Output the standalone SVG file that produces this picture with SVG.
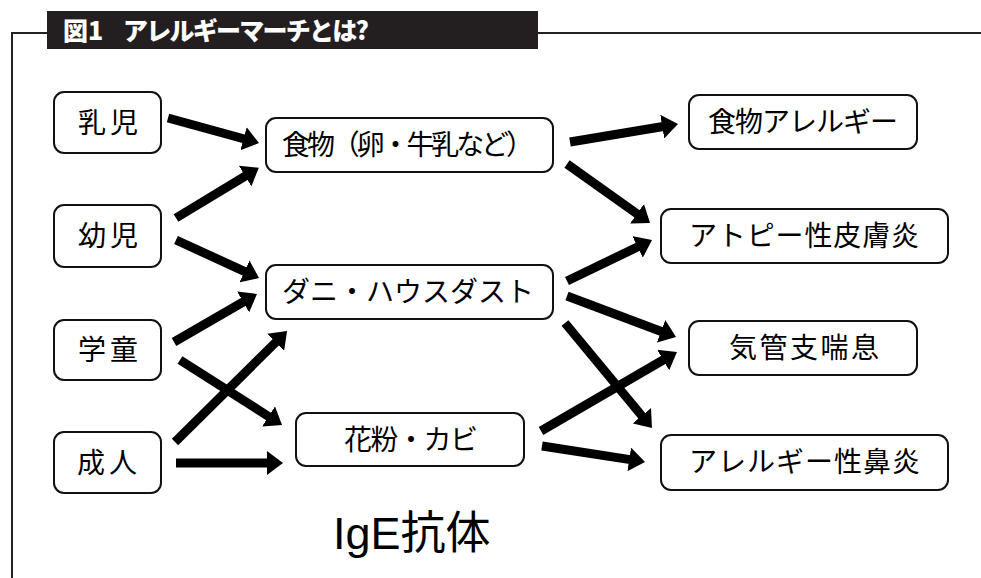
<svg xmlns="http://www.w3.org/2000/svg" width="981" height="578" viewBox="0 0 981 578">
<style>
.box{fill:#fff;stroke:#111;stroke-width:2}
.t{font-family:"Noto Sans CJK JP","Noto Sans",sans-serif;font-size:28px;fill:#000;text-anchor:middle}
.ar{stroke:#000;stroke-width:9;fill:none;marker-end:url(#ah)}
.frame{stroke:#222;stroke-width:2;fill:none}
.title{font-family:"Noto Sans CJK JP","Noto Sans",sans-serif;font-size:25px;font-weight:900;fill:#fff}
</style>
<defs>
<marker id="ah" markerUnits="userSpaceOnUse" viewBox="0 -12 16 24" markerWidth="16" markerHeight="24" refX="1" refY="0" orient="auto">
<path d="M0,-12 L16,0 L0,12 z" fill="#000"/>
</marker>
</defs>
<rect width="981" height="578" fill="#fff"/>
<g id="frame">
<path class="frame" d="M12,578 L12,33 L47,33 M538,33 L981,33"/>
<rect x="47" y="11" width="491" height="38" fill="#231f20"/>
<text class="title" x="63" y="40">図1</text>
<text class="title" x="123" y="40" textLength="246" lengthAdjust="spacing">アレルギーマーチとは?</text>
</g>
<g id="connectors">
<line class="ar" x1="168" y1="118" x2="244.5" y2="139"/>
<line class="ar" x1="176" y1="218" x2="246" y2="175.6"/>
<line class="ar" x1="176" y1="240" x2="245.4" y2="271.8"/>
<line class="ar" x1="174" y1="342" x2="244" y2="301.5"/>
<line class="ar" x1="180" y1="360" x2="269.4" y2="417"/>
<line class="ar" x1="175" y1="442" x2="276.4" y2="341.6"/>
<line class="ar" x1="176" y1="463" x2="268" y2="463"/>
<line class="ar" x1="570" y1="142" x2="663.2" y2="126.5"/>
<line class="ar" x1="567" y1="164" x2="637.8" y2="214.3"/>
<line class="ar" x1="567" y1="281" x2="638.5" y2="246.5"/>
<line class="ar" x1="567" y1="296" x2="662" y2="331.7"/>
<line class="ar" x1="565" y1="323" x2="642.4" y2="416.5"/>
<line class="ar" x1="541" y1="431" x2="664" y2="359.5"/>
<line class="ar" x1="542" y1="446" x2="630.2" y2="459.6"/>
</g>
<g id="n-nyuji"><rect class="box" x="54" y="92" width="107" height="61" rx="10"/><text class="t" x="108" y="133" textLength="60">乳児</text></g>
<g id="n-youji"><rect class="box" x="54" y="205" width="107" height="62" rx="10"/><text class="t" x="108" y="246" textLength="60">幼児</text></g>
<g id="n-gakudou"><rect class="box" x="54" y="320" width="107" height="60" rx="10"/><text class="t" x="108" y="360" textLength="60">学童</text></g>
<g id="n-seijin"><rect class="box" x="54" y="432" width="107" height="61" rx="10"/><text class="t" x="107" y="473" textLength="60">成人</text></g>
<g id="n-food"><rect class="box" x="266" y="118" width="287" height="54" rx="10"/><text class="t" x="408" y="155" textLength="252">食物（卵・牛乳など）</text></g>
<g id="n-dani"><rect class="box" x="266" y="265" width="287" height="54" rx="10"/><text class="t" x="408" y="302" textLength="252">ダニ・ハウスダスト</text></g>
<g id="n-kafun"><rect class="box" x="296" y="413" width="228" height="53" rx="10"/><text class="t" x="411" y="450" textLength="134">花粉・カビ</text></g>
<g id="n-foodallergy"><rect class="box" x="689" y="95" width="228" height="54" rx="10"/><text class="t" x="803" y="132" textLength="190">食物アレルギー</text></g>
<g id="n-atopy"><rect class="box" x="661" y="209" width="287" height="54" rx="10"/><text class="t" x="804" y="246" textLength="230">アトピー性皮膚炎</text></g>
<g id="n-asthma"><rect class="box" x="689" y="321" width="228" height="54" rx="10"/><text class="t" x="804" y="358" textLength="150">気管支喘息</text></g>
<g id="n-rhinitis"><rect class="box" x="661" y="435" width="287" height="55" rx="10"/><text class="t" x="804.5" y="472" textLength="231">アレルギー性鼻炎</text></g>
<g id="label-ige"><text x="333" y="549" font-family="'Liberation Sans','Noto Sans CJK JP',sans-serif" font-size="45" fill="#000">IgE抗体</text></g>
</svg>
